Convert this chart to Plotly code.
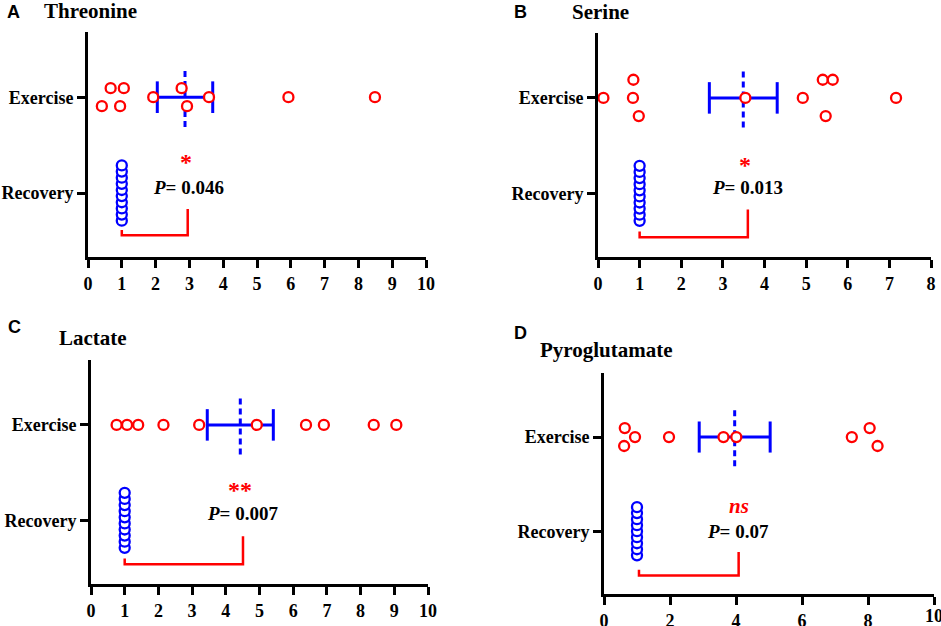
import plotly.graph_objects as go

# ---------------- data (fold change) ----------------
categories = ["Recovery", "Exercise"]

ex_A = [0.67, 1.06, 0.41, 0.95, 1.93, 2.77, 2.93, 3.58, 5.93, 8.49]
rec_A = [1, 1, 1, 1, 1, 1, 1, 1, 1, 1]
mean_A, sem_A = 2.87, 0.82

ex_B = [0.13, 0.85, 0.84, 0.98, 3.54, 4.92, 5.40, 5.64, 5.47, 7.16]
rec_B = [1, 1, 1, 1, 1, 1, 1, 1, 1, 1]
mean_B, sem_B = 3.49, 0.815

ex_C = [0.76, 1.07, 1.40, 2.15, 3.21, 4.92, 6.38, 6.91, 8.39, 9.06]
rec_C = [1, 1, 1, 1, 1, 1, 1, 1, 1, 1]
mean_C, sem_C = 4.43, 0.98

ex_D = [0.63, 0.94, 0.61, 1.97, 3.62, 4.01, 7.51, 8.05, 8.29]
rec_D = [1, 1, 1, 1, 1, 1, 1, 1, 1]
mean_D, sem_D = 3.96, 1.075

titles = ["Threonine", "Serine", "Lactate", "Pyroglutamate"]
letters = ["A", "B", "C", "D"]
p_texts = ["0.046", "0.013", "0.007", "0.07"]
sig_marks = ["*", "*", "**", "ns"]
x_max = [10, 8, 10, 10]
x_ticks = [list(range(0, 11)), list(range(0, 9)), list(range(0, 11)), [0, 2, 4, 6, 8, 10]]

# ---------------- layout helpers (positions / styles) ----------------
W, H = 941, 626
RED = "#FF0000"
BLUE = "#0000FF"
SERIF = "Times New Roman, Liberation Serif, DejaVu Serif, serif"
SANS = "Arial, Liberation Sans, sans-serif"

# beeswarm rows for exercise points (layout only)
rows = [
    [1, 1, -1, -1, 0, 1, -1, 0, 0, 0],
    [0, 1, 0, -1, 0, 0, 1, 1, -1, 0],
    [0] * 10,
    [1, 0, -1, 0, 0, 0, 0, 1, -1],
]
row_step = [0.094, 0.19, 0.094, 0.095]

# panel pixel boxes: x0, x1, ytop, ybot
boxes = [
    (88, 426, 32, 257),
    (598, 931, 33, 257),
    (91, 428, 360, 584),
    (604, 934, 373, 594),
]
YR = [-0.667, 1.68]

# bracket: (left x, right x, y horizontal, y left top, y right top)
brackets = [
    (1.0, 2.95, -0.44, -0.385, -0.167),
    (1.0, 3.60, -0.46, -0.40, -0.17),
    (1.0, 4.51, -0.46, -0.40, -0.167),
    (1.06, 4.08, -0.47, -0.41, -0.22),
]
# annotation positions: (sig x, sig y, p x, p y)
ann_pos = [
    (2.90, 0.32, 2.96, 0.06),
    (3.53, 0.30, 3.60, 0.06),
    (4.43, 0.32, 4.50, 0.07),
    (4.10, 0.27, 4.06, 0.00),
]
# title positions (px): letter x, letter y, title x, title y
title_pos = [
    (5, 12, 42, 11),
    (512, 12, 570, 12),
    (6, 327, 57, 338),
    (512, 333, 538, 350),
]

ex_all = [ex_A, ex_B, ex_C, ex_D]
rec_all = [rec_A, rec_B, rec_C, rec_D]
means = [mean_A, mean_B, mean_C, mean_D]
sems = [sem_A, sem_B, sem_C, sem_D]

fig = go.Figure()
annotations = []
TICKFONT = dict(family=SERIF, size=18, color="black", weight="bold")

for i in range(4):
    n = "" if i == 0 else str(i + 1)
    xa, ya = "x" + n, "y" + n
    x0, x1, yt, yb = boxes[i]
    m, s = means[i], sems[i]

    # SEM error bar with caps
    cap = 0.165
    fig.add_trace(go.Scatter(
        x=[m - s, m + s, None, m - s, m - s, None, m + s, m + s],
        y=[1, 1, None, 1 - cap, 1 + cap, None, 1 - cap, 1 + cap],
        mode="lines", line=dict(color=BLUE, width=3),
        xaxis=xa, yaxis=ya, showlegend=False, hoverinfo="skip"))
    # mean dashed line
    fig.add_trace(go.Scatter(
        x=[m, m], y=[1 - 0.31, 1 + 0.31], mode="lines",
        line=dict(color=BLUE, width=3, dash="6px,4px"),
        xaxis=xa, yaxis=ya, showlegend=False, hoverinfo="skip"))
    # bracket
    bl, br, bh, blt, brt = brackets[i]
    fig.add_trace(go.Scatter(
        x=[bl, bl, br, br], y=[blt, bh, bh, brt], mode="lines",
        line=dict(color=RED, width=2.5),
        xaxis=xa, yaxis=ya, showlegend=False, hoverinfo="skip"))
    # exercise points
    ex = ex_all[i]
    fig.add_trace(go.Scatter(
        x=ex, y=[1 + r * row_step[i] for r in rows[i]], mode="markers",
        marker=dict(symbol="circle", size=10, color="white",
                    line=dict(color=RED, width=2.3)),
        xaxis=xa, yaxis=ya, showlegend=False))
    # recovery points (vertical stack)
    rec = rec_all[i]
    k = len(rec)
    step = 0.064
    fig.add_trace(go.Scatter(
        x=rec, y=[(j - (k - 1) / 2) * step for j in range(k)], mode="markers",
        marker=dict(symbol="circle", size=10, color="white",
                    line=dict(color=BLUE, width=2.3)),
        xaxis=xa, yaxis=ya, showlegend=False))

    axis_common = dict(showgrid=False, zeroline=False, showline=True,
                       linecolor="black", linewidth=3, ticks="outside",
                       ticklen=8, tickwidth=3, tickcolor="black", automargin=False,
                       tickfont=TICKFONT)
    fig.update_layout(**{
        ("xaxis" + n): dict(domain=[x0 / W, x1 / W], range=[0, x_max[i]],
                             tickvals=x_ticks[i], anchor=ya, **axis_common),
        ("yaxis" + n): dict(domain=[1 - yb / H, 1 - yt / H], range=YR,
                             tickvals=[0, 1], ticktext=categories, anchor=xa,
                             **axis_common),
    })

    sx, sy, px, py = ann_pos[i]
    sig = sig_marks[i]
    sig_txt = "<b><i>ns</i></b>" if sig == "ns" else "<b>" + sig + "</b>"
    annotations.append(dict(x=sx, y=sy, xref=xa, yref=ya, text=sig_txt,
                            showarrow=False,
                            font=dict(family=SERIF, size=21 if sig == "ns" else 24, color=RED)))
    annotations.append(dict(x=px, y=py, xref=xa, yref=ya,
                            text="<b><i>P</i>= " + p_texts[i] + "</b>",
                            showarrow=False, font=dict(family=SERIF, size=19, color="black")))
    lx, ly, tx, ty = title_pos[i]
    annotations.append(dict(x=lx / W, y=1 - ly / H, xref="paper", yref="paper",
                            xanchor="left", yanchor="middle", showarrow=False,
                            text="<b>" + letters[i] + "</b>",
                            font=dict(family=SANS, size=18, color="black")))
    annotations.append(dict(x=tx / W, y=1 - ty / H, xref="paper", yref="paper",
                            xanchor="left", yanchor="middle", showarrow=False,
                            text="<b>" + titles[i] + "</b>",
                            font=dict(family=SERIF, size=21, color="black")))

# the last tick label of panel D runs past the figure edge (as in the original);
# plotly drops it, so it is drawn as an annotation at the axis value
d_last = x_ticks[3][-1]
annotations.append(dict(x=d_last, y=1 - 616 / H, xref="x4", yref="paper",
                        text=str(d_last), showarrow=False, xanchor="center",
                        yanchor="middle", font=TICKFONT))

fig.update_layout(width=W, height=H,
                  margin=dict(l=0, r=0, t=0, b=0, pad=0, autoexpand=False),
                  paper_bgcolor="white", plot_bgcolor="white",
                  annotations=annotations)

fig.write_html("out.html", config={"displayModeBar": False},
               post_script="document.body.style.margin='0';")
